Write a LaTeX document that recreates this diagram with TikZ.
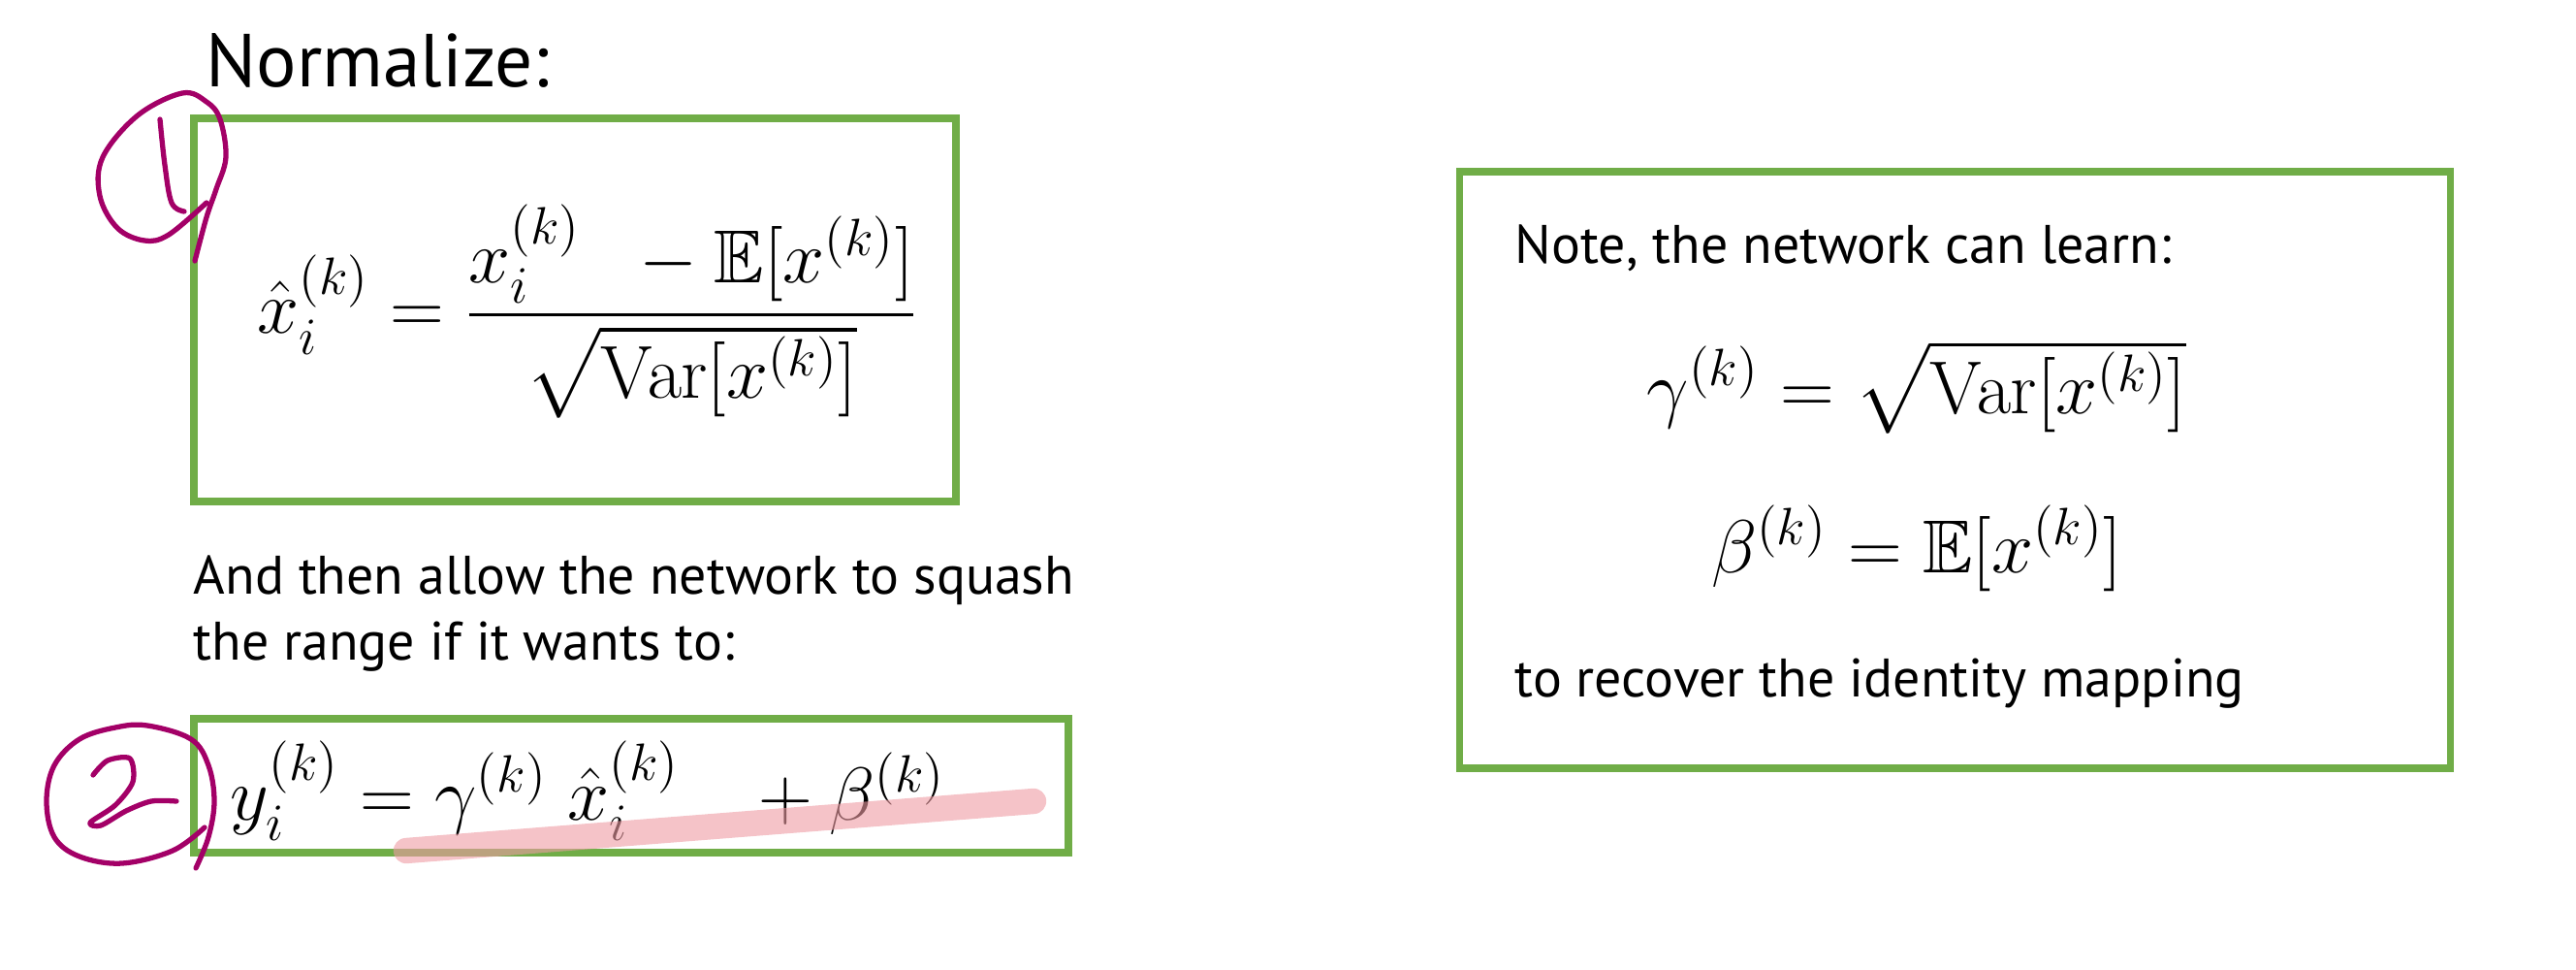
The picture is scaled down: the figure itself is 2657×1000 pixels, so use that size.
\RequirePackage{fix-cm}
\documentclass[tikz,border=0pt]{standalone}
\usepackage[no-math]{fontspec}
\setmainfont{PT Sans}
\usepackage{amsmath}
\usepackage{amssymb}
\usetikzlibrary{positioning,fit}
\definecolor{boxgreen}{RGB}{112,173,71}
\definecolor{inkred}{RGB}{163,0,103}
\definecolor{marker}{RGB}{238,155,163}

\begin{document}
\begin{tikzpicture}[x=0.01cm,y=-0.01cm,
  greenbox/.style={draw=boxgreen,line width=2pt,inner sep=0pt},
  ink/.style={draw=inkred,line width=1.5pt,line cap=round,line join=round},
  txt/.style={anchor=base west,inner sep=0pt,font=\fontsize{15.9}{19}\selectfont},
  mth/.style={inner sep=0pt,font=\fontsize{22}{26}\selectfont}]
\useasboundingbox (0,0) rectangle (2657,1000);

% left column
\node[txt,font=\fontsize{22}{26}\selectfont] (title) at (212,90) {Normalize:};
\node[greenbox,fit={(200,122) (986,517)}] (normbox) {};
\node[mth] (normeq) at (606,321) {$\displaystyle \hat{x}_i^{(k)} = \frac{x_i^{(k)}\;\; - \mathbb{E}[x^{(k)}]}{\sqrt{\mathrm{Var}[x^{(k)}]}}$};

\node[txt] (squash) at (199,612) {And then allow the network to squash};
\node[txt] (range) at (199,680) {the range if it wants to:};
\node[greenbox,fit={(200,741) (1102,879)}] (scalebox) {};
\node[mth,anchor=base west] (scaleeq) at (237,845) {$y_i^{(k)} = \gamma^{(k)}\;\hat{x}_i^{(k)}\;\;\; + \beta^{(k)}$};

% highlighter over the second box
\coordinate (hlA) at (419,877);
\coordinate (hlB) at (1066,826);
\draw[marker,opacity=0.6,line width=7.5pt,line cap=round] (hlA) -- (hlB);

% right box
\node[greenbox,fit={(1505,177) (2527,792)}] (notebox) {};
\node[txt] (note) at (1562,271) {Note, the network can learn:};
\node[mth,anchor=base] (gammaeq) at (1977,426) {$\gamma^{(k)} = \sqrt{\mathrm{Var}[x^{(k)}]}$};
\node[mth,anchor=base] (betaeq) at (1977,590) {$\beta^{(k)} = \mathbb{E}[x^{(k)}]$};
\node[txt] (recover) at (1562,718) {to recover the identity mapping};

% pen marks: 1
\draw[ink] plot[smooth,tension=0.6] coordinates {(213,209) (174,242) (149,248) (121,235) (103,202) (106,162) (142,119) (188,96) (213,105) (227,123) (233,162) (223,195) (213,224) (201,269)};
\draw[ink] plot[smooth,tension=0.6] coordinates {(165,123) (170,170) (177,209) (190,218)};
% pen marks: 2
\draw[ink] plot[smooth,tension=0.6] coordinates {(211,853) (178,877) (126,890) (82,883) (56,863) (48,826) (56,789) (82,762) (119,750) (152,748) (197,762) (215,789) (221,826) (215,863) (202,895)};
\draw[ink] plot[smooth,tension=0.5] coordinates {(96,799) (111,784) (134,782) (137,806) (119,830) (93,848) (104,851) (130,836) (156,826) (182,826)};
\end{tikzpicture}
\end{document}
